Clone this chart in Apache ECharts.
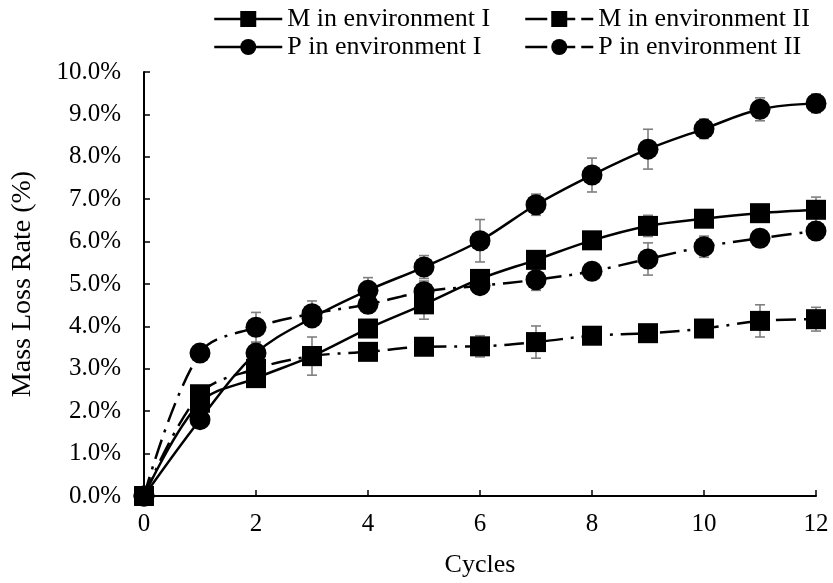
<!DOCTYPE html>
<html>
<head>
<meta charset="utf-8">
<script src="https://cdn.jsdelivr.net/npm/echarts@6/dist/echarts.min.js"></script>
</head>
<body style="margin:0;background:#fff">
<div id="main" style="width:833px;height:583px;"></div>
<script>
	// data (values in %)
	var cycles = [0, 1, 2, 3, 4, 5, 6, 7, 8, 9, 10, 11, 12];
	var mEnv1 = [0, 2.2, 2.78, 3.3, 3.95, 4.52, 5.12, 5.57, 6.03, 6.37, 6.54, 6.67, 6.75];
	var mEnv2 = [0, 2.4, 3.0, 3.3, 3.4, 3.52, 3.53, 3.63, 3.78, 3.84, 3.95, 4.13, 4.17];
	var pEnv1 = [0, 1.8, 3.37, 4.2, 4.85, 5.4, 6.02, 6.87, 7.57, 8.18, 8.66, 9.12, 9.26];
	var pEnv2 = [0, 3.37, 3.98, 4.3, 4.52, 4.82, 4.96, 5.1, 5.3, 5.59, 5.88, 6.08, 6.25];
	// error bar half widths
	var mEnv1Err = [0, 0.15, 0.15, 0.2, 0.2, 0.35, 0.15, 0.15, 0.1, 0.25, 0.15, 0.2, 0.3];
	var mEnv2Err = [0, 0.15, 0.2, 0.45, 0.2, 0.17, 0.25, 0.38, 0.1, 0.1, 0.1, 0.38, 0.28];
	var pEnv1Err = [0, 0.2, 0.25, 0.15, 0.3, 0.27, 0.5, 0.25, 0.4, 0.47, 0.23, 0.27, 0.22];
	var pEnv2Err = [0, 0.15, 0.35, 0.3, 0.2, 0.25, 0.2, 0.25, 0.1, 0.38, 0.25, 0.15, 0.2];
	var names = ['M in environment I', 'M in environment II', 'P in environment I', 'P in environment II'];

	var font = 'Liberation Serif, "Times New Roman", serif';
	var dashDot = [20, 8, 3, 8];

	function pairs(vals) {
		return vals.map(function (v, i) { return [cycles[i], v]; });
	}

	function lineSeries(name, vals, sym, dashed) {
		return {
			type: 'line',
			name: name,
			data: pairs(vals),
			smooth: 0.35,
			symbol: sym,
			symbolSize: sym == 'rect' ? 20 : 21,
			z: 3,
			itemStyle: { color: '#000' },
			lineStyle: { color: '#000', width: 2.5, type: dashed ? dashDot : 'solid' }
		};
	}

	function errSeries(vals, errs) {
		return {
			type: 'custom',
			silent: true,
			z: 2,
			data: vals.map(function (v, i) { return [cycles[i], v, errs[i]]; }),
			renderItem: function (params, api) {
				var x = api.value(0), y = api.value(1), e = api.value(2);
				if (!e) return;
				var top = api.coord([x, y + e]);
				var bot = api.coord([x, y - e]);
				var st = { stroke: '#7f7f7f', lineWidth: 1.6 };
				return {
					type: 'group',
					children: [
						{ type: 'line', shape: { x1: top[0], y1: top[1], x2: bot[0], y2: bot[1] }, style: st },
						{ type: 'line', shape: { x1: top[0] - 5, y1: top[1], x2: top[0] + 5, y2: top[1] }, style: st },
						{ type: 'line', shape: { x1: bot[0] - 5, y1: bot[1], x2: bot[0] + 5, y2: bot[1] }, style: st }
					]
				};
			}
		};
	}

	function legendAt(name, left, top, dashed) {
		return {
			data: [name],
			left: left,
			top: top,
			padding: 0,
			itemWidth: 68,
			itemHeight: 20,
			selectedMode: false,
			lineStyle: { type: dashed ? [22, 6] : 'solid', width: 2.5 },
			textStyle: { fontSize: 26, fontFamily: font, color: '#000' }
		};
	}

	var myChart = echarts.init(document.getElementById('main'));
	var option = {
		animation: false,
		backgroundColor: '#fff',
		legend: [
			legendAt(names[0], 213, 6, false),
			legendAt(names[1], 524, 6, true),
			legendAt(names[2], 213, 34, false),
			legendAt(names[3], 524, 34, true)
		],
		grid: { left: 144, right: 17, top: 72, bottom: 82 },
		xAxis: {
			type: 'value',
			min: 0,
			max: 12,
			interval: 2,
			name: 'Cycles',
			nameLocation: 'middle',
			nameGap: 56,
			nameTextStyle: { fontSize: 26, fontFamily: font, color: '#000' },
			axisLine: { lineStyle: { color: '#000', width: 2 } },
			axisTick: { inside: true, length: 6, lineStyle: { color: '#000', width: 1.5 } },
			axisLabel: { fontSize: 25, fontFamily: font, color: '#000', margin: 16 },
			splitLine: { show: false }
		},
		yAxis: {
			type: 'value',
			min: 0,
			max: 10,
			interval: 1,
			name: 'Mass Loss Rate (%)',
			nameLocation: 'middle',
			nameGap: 107,
			nameTextStyle: { fontSize: 28, fontFamily: font, color: '#000' },
			axisLine: { show: true, lineStyle: { color: '#000', width: 2 } },
			axisTick: { show: true, inside: true, length: 6, lineStyle: { color: '#000', width: 1.5 } },
			axisLabel: {
				fontSize: 25, fontFamily: font, color: '#000', margin: 23,
				formatter: function (v) { return v.toFixed(1) + '%'; }
			},
			splitLine: { show: false }
		},
		series: [
			errSeries(mEnv1, mEnv1Err),
			errSeries(mEnv2, mEnv2Err),
			errSeries(pEnv1, pEnv1Err),
			errSeries(pEnv2, pEnv2Err),
			lineSeries(names[0], mEnv1, 'rect', false),
			lineSeries(names[1], mEnv2, 'rect', true),
			lineSeries(names[2], pEnv1, 'circle', false),
			lineSeries(names[3], pEnv2, 'circle', true)
		]
	};
	myChart.setOption(option);
</script>
</body>
</html>
